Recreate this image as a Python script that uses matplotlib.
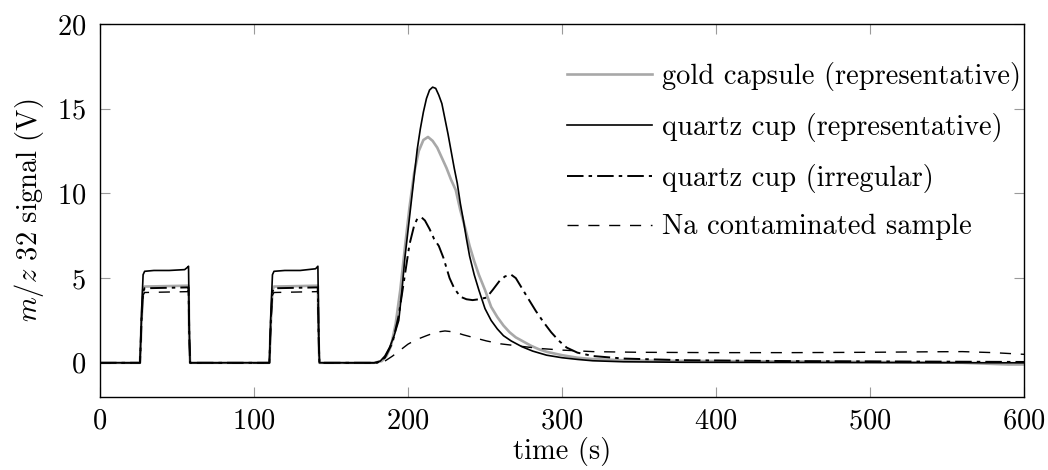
import matplotlib
matplotlib.use("Agg")
import matplotlib.pyplot as plt

plt.rcParams['font.family'] = 'serif'
plt.rcParams['font.serif'] = ['cmr10']
plt.rcParams['mathtext.fontset'] = 'cm'
plt.rcParams['axes.formatter.use_mathtext'] = True

# --------------------
# data (time in s, signal in V)
# --------------------

t_gold = [0, 26, 27, 28, 29, 40, 57, 57.5, 58, 58.5, 110, 111, 112, 113, 125, 141, 141.5, 142, 142.5,
          178, 183, 186, 189, 192, 195, 198, 201, 204, 207, 210, 213, 216, 219, 222, 225, 228, 231,
          234, 237, 240, 243, 246, 250, 254, 258, 262, 266, 270, 275, 280, 285, 290, 300, 310, 320,
          340, 360, 400, 450, 500, 560, 590, 600]
v_gold = [0, 0, 2.5, 4.3, 4.5, 4.52, 4.55, 4.55, 1.2, 0, 0, 2.5, 4.3, 4.5, 4.52, 4.55, 4.55, 1.2, 0,
          0, 0.1, 0.4, 1.0, 2.3, 4.3, 6.8, 9.2, 11.2, 12.5, 13.15, 13.33, 13.1, 12.7, 12.1, 11.5, 10.8, 10.2,
          9.0, 8.0, 6.9, 6.0, 5.2, 4.3, 3.3, 2.7, 2.2, 1.8, 1.5, 1.25, 1.0, 0.8, 0.65, 0.45, 0.3, 0.22,
          0.15, 0.12, 0.1, 0.08, 0.05, 0.0, -0.1, -0.1]

t_quartz = [0, 26, 27, 28, 29, 35, 45, 55, 57, 57.5, 58, 58.5, 110, 111, 112, 113, 120, 130, 140, 141.5, 142, 142.5,
            178, 182, 185, 188, 191, 194, 196, 198, 200, 202, 204, 206, 208, 210, 212, 214, 216, 218, 220,
            222, 224, 226, 228, 230, 232, 234, 236, 238, 240, 243, 246, 250, 254, 258, 262, 267, 274, 281,
            290, 300, 310, 320, 340, 380, 450, 600]
v_quartz = [0, 0, 3.0, 5.2, 5.4, 5.45, 5.45, 5.5, 5.65, 5.7, 2.0, 0, 0, 3.0, 5.2, 5.4, 5.45, 5.45, 5.55, 5.7, 2.0, 0,
            0, 0.1, 0.4, 0.9, 1.6, 2.5, 4.2, 6.2, 7.8, 9.4, 11.0, 12.6, 13.8, 14.8, 15.6, 16.1, 16.27, 16.2, 15.8,
            15.3, 14.4, 13.5, 12.5, 11.5, 10.6, 9.4, 8.4, 7.3, 6.3, 5.2, 4.3, 3.2, 2.5, 2.0, 1.6, 1.29, 0.95, 0.69,
            0.45, 0.3, 0.2, 0.12, 0.06, 0.03, 0.02, 0.0]

t_irreg = [0, 26, 27, 28, 29, 57, 57.5, 58, 58.5, 110, 111, 112, 113, 141, 141.5, 142, 142.5,
           180, 185, 190, 194, 198, 201, 204, 206, 208.7, 211, 214, 217, 220, 223, 227, 230, 234, 238,
           242, 246, 251, 255, 259.5, 263, 267, 270, 274, 278, 283, 288, 293, 298, 303, 310, 320, 340,
           380, 450, 600]
v_irreg = [0, 0, 2.6, 4.2, 4.4, 4.45, 4.45, 1.5, 0, 0, 2.6, 4.2, 4.4, 4.45, 4.45, 1.5, 0,
           0, 0.3, 1.2, 2.8, 5.2, 7.0, 8.1, 8.5, 8.59, 8.4, 7.9, 7.3, 6.9, 6.2, 5.0, 4.4, 3.9, 3.75,
           3.7, 3.75, 3.85, 4.3, 4.84, 5.1, 5.2, 5.0, 4.4, 3.8, 3.06, 2.4, 1.8, 1.3, 0.9, 0.6, 0.4, 0.25,
           0.15, 0.1, 0.05]

t_na = [0, 26, 27, 28, 29, 57, 57.5, 58, 58.5, 110, 111, 112, 113, 141, 141.5, 142, 142.5,
        180, 185, 190, 195, 200, 205, 212, 218, 224, 230, 236, 243, 251, 260, 272, 285, 300, 320,
        350, 400, 450, 500, 540, 560, 580, 600]
v_na = [0, 0, 2.5, 4.0, 4.15, 4.2, 4.3, 1.5, 0, 0, 2.5, 4.0, 4.15, 4.2, 4.3, 1.5, 0,
        0, 0.1, 0.4, 0.75, 1.1, 1.35, 1.6, 1.8, 1.88, 1.82, 1.65, 1.48, 1.29, 1.12, 0.99, 0.85, 0.75, 0.66,
        0.62, 0.6, 0.6, 0.62, 0.65, 0.66, 0.6, 0.5]

labels = ['gold capsule (representative)', 'quartz cup (representative)',
          'quartz cup (irregular)', 'Na contaminated sample']

# --------------------
# figure
# --------------------

fig = plt.figure(figsize=(10.48, 4.70), dpi=100)
ax = fig.add_axes([0.0954, 0.156, 0.8817, 0.793])

ax.plot(t_gold, v_gold, color='#a8a8a8', lw=1.9, label=labels[0])
ax.plot(t_quartz, v_quartz, color='black', lw=1.2, label=labels[1])
ax.plot(t_irreg, v_irreg, color='black', lw=1.4, dashes=(8.5, 2.6, 1.8, 2.6), label=labels[2])
ax.plot(t_na, v_na, color='black', lw=1.0, dashes=(8, 7), label=labels[3])

ax.set_xlim(0, 600)
ax.set_ylim(-2, 20)
ax.set_xticks([0, 100, 200, 300, 400, 500, 600])
ax.set_yticks([0, 5, 10, 15, 20])

fs = 20.5
ax.tick_params(direction='in', length=7, width=0.8, color='#9a9a9a',
               top=True, right=True, labelsize=fs)
ax.tick_params(axis='x', pad=8)
ax.tick_params(axis='y', pad=10)
for s in ax.spines.values():
    s.set_linewidth(1.0)

ax.set_xlabel('time (s)', fontsize=fs, labelpad=2)
ax.set_ylabel('$m/z$ 32 signal (V)', fontsize=fs, labelpad=8)

ax.legend(loc='upper right', bbox_to_anchor=(1.0, 0.905), frameon=False, fontsize=fs,
          handlelength=3.0, handletextpad=0.35, labelspacing=0.76, borderaxespad=0.0, borderpad=0.1)

fig.savefig('out.png', dpi=100)
